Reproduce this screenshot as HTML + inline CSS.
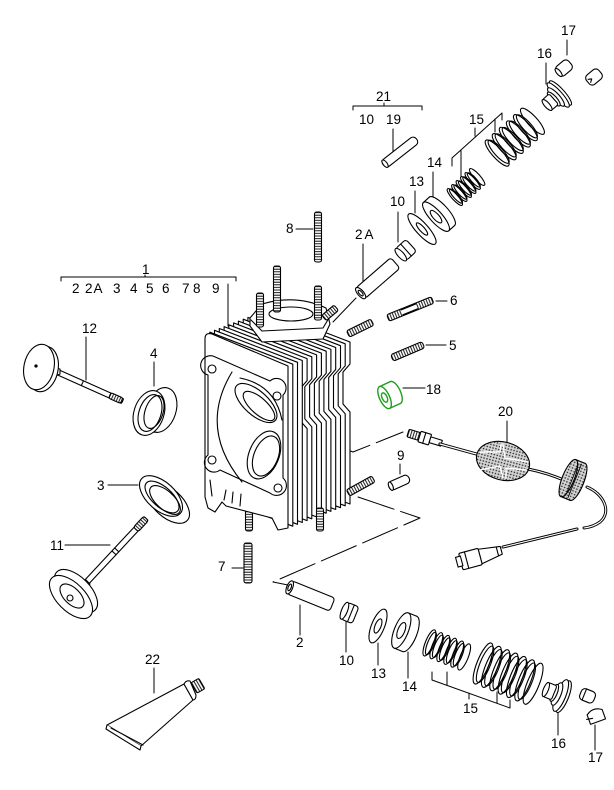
<!DOCTYPE html>
<html><head><meta charset="utf-8"><style>
html,body{margin:0;padding:0;background:#fff;}
svg{display:block;}
text{font-family:"Liberation Sans",sans-serif;font-size:13.5px;fill:#000;stroke:none;}
</style></head><body>
<svg width="614" height="790" viewBox="0 0 614 790" xmlns="http://www.w3.org/2000/svg">
<defs>
<pattern id="th" width="2.6" height="10" patternUnits="userSpaceOnUse"><rect width="2.6" height="10" fill="#fff"/><line x1="0.6" y1="0" x2="0.6" y2="10" stroke="#000" stroke-width="0.9"/></pattern>
<pattern id="dots" width="3" height="3" patternUnits="userSpaceOnUse"><rect width="3" height="3" fill="#d4d4d4"/><circle cx="1" cy="1" r="0.8" fill="#222"/></pattern>
<polygon id="fin" points="205,334 288,366 288,388 281,396 281,428 288,436 288,528 205,497"/>
<polygon id="fin0" points="205,334 288,366 288,528 205,497"/>
</defs>

<!-- ============ LABELS ============ -->
<text x="561" y="35">17</text>
<text x="537" y="58">16</text>
<text x="376" y="101">21</text>
<text x="359" y="124">10</text>
<text x="386" y="124">19</text>
<text x="469" y="124">15</text>
<text x="427" y="167">14</text>
<text x="409" y="186">13</text>
<text x="390" y="206">10</text>
<text x="286" y="233">8</text>
<text x="355" y="239" letter-spacing="2">2A</text>
<text x="142" y="274">1</text>
<text x="72" y="293">2</text>
<text x="85" y="293" letter-spacing="1">2A</text>
<text x="113" y="293">3</text>
<text x="130" y="293">4</text>
<text x="146" y="293">5</text>
<text x="162" y="293">6</text>
<text x="182" y="293">7</text>
<text x="193" y="293">8</text>
<text x="212" y="293">9</text>
<text x="82" y="333">12</text>
<text x="150" y="358">4</text>
<text x="450" y="305">6</text>
<text x="449" y="350">5</text>
<text x="426" y="394">18</text>
<text x="498" y="416">20</text>
<text x="97" y="490">3</text>
<text x="397" y="460">9</text>
<text x="50" y="550">11</text>
<text x="218" y="571">7</text>
<text x="145" y="664">22</text>
<text x="296" y="647">2</text>
<text x="339" y="665">10</text>
<text x="371" y="678">13</text>
<text x="402" y="691">14</text>
<text x="463" y="713">15</text>
<text x="551" y="748">16</text>
<text x="588" y="762">17</text>

<g fill="none" stroke="#000" stroke-width="1" stroke-linecap="round" stroke-linejoin="round">
<!-- ============ LEADERS ============ -->
<path d="M567,40V55 M546,63V84"/>
<path d="M353,110V106H422V110 M384,103V106"/>
<path d="M393,129V158"/>
<path d="M452,166V158L502,113V120 M461,150V176 M495,119V132 M475,128V136"/>
<path d="M433,172V198 M415,191V213 M398,212V242"/>
<path d="M296,229H313"/>
<path d="M363,244V285"/>
<path d="M61,281V277H236V281 M145,275V277"/>
<path d="M228,284V326"/>
<path d="M86,337V380"/>
<path d="M154,362V386"/>
<path d="M436,301H447 M426,345H446 M403,388H425"/>
<path d="M507,421V442"/>
<path d="M400,464V474"/>
<path d="M108,485H138"/>
<path d="M65,545H110"/>
<path d="M232,568H243"/>
<path d="M154,668V693"/>
<path d="M300,605V635 M346,622V652 M378,643V665 M408,652V678"/>
<path d="M432,672V680L510,708V700 M447,672V685 M497,692V703 M469,693V699"/>
<path d="M558,708V735 M595,725V750"/>
<!-- axis lines -->
<path d="M333,322L356,298"/>
<path d="M340,447L353,452L403,432" stroke-dasharray="32 7"/>
<path d="M358,497L420,518L273,582L288,585" stroke-dasharray="38 7"/>
</g>

<g fill="#fff" stroke="#000" stroke-width="1.1" stroke-linejoin="round" stroke-linecap="round">

<!-- ============ CYLINDER HEAD ============ -->
<use href="#fin" transform="translate(62,-24)"/>
<use href="#fin" transform="translate(57.2,-22.2)"/>
<use href="#fin" transform="translate(52.5,-20.3)"/>
<use href="#fin" transform="translate(47.7,-18.5)"/>
<use href="#fin" transform="translate(42.9,-16.6)"/>
<use href="#fin" transform="translate(38.2,-14.8)"/>
<use href="#fin" transform="translate(33.4,-12.9)"/>
<use href="#fin" transform="translate(28.6,-11.1)"/>
<use href="#fin" transform="translate(23.8,-9.2)"/>
<use href="#fin" transform="translate(19.1,-7.4)"/>
<use href="#fin0" transform="translate(14.3,-5.5)"/>
<use href="#fin0" transform="translate(9.5,-3.7)"/>
<use href="#fin0" transform="translate(4.8,-1.8)"/>

<!-- boss -->
<path d="M250,326L262,342L323,339L330,324L326,308Q296,294 262,304L250,318Z"/>
<path d="M251,320L262,331L323,328L329,318" fill="none"/>
<ellipse cx="291" cy="314" rx="22" ry="7"/>
<circle cx="318" cy="305" r="3"/>

<!-- head top studs -->
<g transform="translate(277,266) rotate(90)"><rect x="0" y="-3.5" width="46" height="7" rx="2" fill="url(#th)"/></g>
<g transform="translate(260,293) rotate(90)"><rect x="0" y="-3.5" width="34" height="7" rx="2" fill="url(#th)"/></g>
<g transform="translate(318,286) rotate(90)"><rect x="0" y="-3.5" width="34" height="7" rx="2" fill="url(#th)"/></g>
<g transform="translate(324,318) rotate(-40)"><rect x="0" y="-3.5" width="16" height="7" rx="2" fill="url(#th)"/></g>
<!-- head right studs -->
<g transform="translate(348,334) rotate(-26)"><rect x="0" y="-3.5" width="27" height="7" rx="2" fill="url(#th)"/></g>
<g transform="translate(348,493) rotate(-29)"><rect x="0" y="-3.5" width="29" height="7" rx="2" fill="url(#th)"/></g>
<!-- bottom studs -->
<g transform="translate(249,506) rotate(90)"><rect x="0" y="-3.5" width="25" height="7" rx="2" fill="url(#th)"/></g>
<g transform="translate(320,508) rotate(90)"><rect x="0" y="-3.5" width="23" height="7" rx="2" fill="url(#th)"/></g>

<!-- front face -->
<path d="M205,339Q205,332 212,334L288,366L288,528L278,530L272,518L226,506L222,502L215,512L208,508L205,497Z"/>
<path d="M213,356L270,381A9,9 0 0 1 283,395L283,478A9,9 0 0 1 270,493L220,470A9,9 0 0 1 208,455L208,375A9,9 0 0 1 213,356Z" fill="none"/>
<circle cx="212" cy="369" r="4"/>
<circle cx="277" cy="396" r="4"/>
<circle cx="212" cy="460" r="4"/>
<circle cx="278" cy="488" r="4"/>
<path d="M232,372Q198,428 242,482" fill="none"/>
<path d="M240,378Q275,385 282,420" fill="none"/>
<ellipse cx="256" cy="403" rx="26" ry="12" transform="rotate(42 256 403)"/>
<ellipse cx="259" cy="406" rx="20" ry="8" transform="rotate(42 259 406)" fill="none"/>
<ellipse cx="264" cy="455" rx="15" ry="25" transform="rotate(22 264 455)"/>
<ellipse cx="266" cy="456" rx="12" ry="21" transform="rotate(22 266 456)" fill="none"/>
<path d="M224,500L226,490 M232,503L233,492 M240,506L241,494 M210,480L212,496" fill="none"/>

<!-- ============ UPPER VALVETRAIN ============ -->
<!-- pin 19 -->
<g transform="translate(400,152) rotate(-38)">
<rect x="-21" y="-4.5" width="42" height="9" rx="4"/>
<ellipse cx="-19" cy="0" rx="2" ry="4.5"/>
</g>
<!-- stud 8 -->
<g transform="translate(318,212) rotate(90)"><rect x="0" y="-3.5" width="50" height="7" rx="2" fill="url(#th)"/></g>
<!-- 2A guide -->
<g transform="translate(378,278) rotate(-41)">
<rect x="-23" y="-7" width="46" height="14" rx="3"/>
<ellipse cx="-23" cy="0" rx="3" ry="7"/>
<ellipse cx="-23" cy="0" rx="1.5" ry="3.5"/>
</g>
<!-- 10 top -->
<g transform="translate(406,250) rotate(-42)">
<rect x="-7" y="-8" width="14" height="16" rx="3"/>
<ellipse cx="-7" cy="0" rx="3" ry="8"/>
<path d="M0,-8V8" fill="none"/>
</g>
<!-- 13 top washer -->
<g transform="translate(422,229) rotate(-42)">
<ellipse cx="0" cy="0" rx="6" ry="20"/>
<ellipse cx="0" cy="0" rx="2.5" ry="8"/>
</g>
<!-- 14 top -->
<g transform="translate(439,214) rotate(-42)">
<ellipse cx="4" cy="0" rx="6" ry="19"/>
<rect x="-4" y="-19" width="8" height="38" stroke="none"/>
<path d="M-4,-19H4 M-4,19H4" fill="none"/>
<ellipse cx="-4" cy="0" rx="6" ry="19"/>
<ellipse cx="-4" cy="0" rx="3" ry="8"/>
</g>
<!-- small spring top -->
<g transform="translate(466,187) rotate(-42)" fill="none" stroke-width="1.1">
<ellipse cx="-15" cy="0" rx="3" ry="11"/><ellipse cx="-13.5" cy="0" rx="2.6" ry="9.3"/>
<ellipse cx="-9" cy="0" rx="3" ry="11"/><ellipse cx="-7.5" cy="0" rx="2.6" ry="9.3"/>
<ellipse cx="-3" cy="0" rx="3" ry="11"/><ellipse cx="-1.5" cy="0" rx="2.6" ry="9.3"/>
<ellipse cx="3" cy="0" rx="3" ry="11"/><ellipse cx="4.5" cy="0" rx="2.6" ry="9.3"/>
<ellipse cx="9" cy="0" rx="3" ry="11"/><ellipse cx="10.5" cy="0" rx="2.6" ry="9.3"/>
<ellipse cx="15" cy="0" rx="3" ry="11"/>
</g>
<!-- big spring top -->
<g transform="translate(515,137) rotate(-42)" fill="none" stroke-width="1.1">
<ellipse cx="-24" cy="0" rx="5" ry="17"/><ellipse cx="-22" cy="0" rx="4.4" ry="15"/>
<ellipse cx="-14.5" cy="0" rx="5" ry="17"/><ellipse cx="-12.5" cy="0" rx="4.4" ry="15"/>
<ellipse cx="-5" cy="0" rx="5" ry="17"/><ellipse cx="-3" cy="0" rx="4.4" ry="15"/>
<ellipse cx="4.5" cy="0" rx="5" ry="17"/><ellipse cx="6.5" cy="0" rx="4.4" ry="15"/>
<ellipse cx="14" cy="0" rx="5" ry="17"/><ellipse cx="16" cy="0" rx="4.4" ry="15"/>
<ellipse cx="23.5" cy="0" rx="5" ry="17"/>
</g>
<!-- 16 top -->
<g transform="translate(556,97) rotate(-42)">
<ellipse cx="6" cy="0" rx="4" ry="16"/>
<ellipse cx="3" cy="0" rx="4" ry="16"/>
<ellipse cx="0" cy="0" rx="3.5" ry="12"/>
<ellipse cx="-3" cy="0" rx="3" ry="9"/>
<rect x="-12" y="-7" width="9" height="14" rx="2"/>
<ellipse cx="-12" cy="0" rx="2.5" ry="7"/>
</g>
<!-- 17 top keepers -->
<g transform="translate(564,68) rotate(-40)">
<rect x="-8" y="-6" width="16" height="12" rx="4"/>
<ellipse cx="-7" cy="0" rx="2" ry="5"/>
</g>
<g transform="translate(594,77) rotate(-40)">
<rect x="-8" y="-6" width="16" height="12" rx="4"/>
<path d="M-6,-2L-3,0L-6,2" fill="none"/>
</g>

<!-- studs 6, 5 -->
<g transform="translate(388,318) rotate(-22)">
<rect x="0" y="-3.5" width="48" height="7" rx="2" fill="url(#th)"/>
<rect x="15" y="-2.6" width="16" height="5.2" stroke="none"/>
<path d="M15,-2.6H31 M15,2.6H31" fill="none"/>
</g>
<g transform="translate(392,358) rotate(-23)"><rect x="0" y="-3.5" width="34" height="7" rx="2.5" fill="url(#th)"/></g>

<!-- 18 green nut -->
<g transform="translate(390,395) rotate(-25)" stroke="#1f9e1f" stroke-width="1.4">
<ellipse cx="6" cy="0" rx="5" ry="12"/>
<rect x="-6" y="-12" width="12" height="24" stroke="none"/>
<path d="M-6,-12H6 M-6,12H6" fill="none"/>
<ellipse cx="-6" cy="0" rx="5" ry="12"/>
<ellipse cx="-6" cy="0" rx="2.5" ry="5"/>
</g>

<!-- pin 9 -->
<g transform="translate(389,487) rotate(-24)">
<rect x="0" y="-4.5" width="22" height="9" rx="4"/>
<ellipse cx="2" cy="0" rx="2" ry="4.5"/>
</g>

<!-- ============ SENSOR 20 ============ -->
<g transform="translate(408,433) rotate(17)">
<rect x="0" y="-4" width="12" height="8" rx="1.5" fill="url(#th)"/>
<rect x="12" y="-5.5" width="11" height="11" rx="1"/>
<path d="M17,-5.5V5.5" fill="none"/>
<rect x="23" y="-3" width="12" height="6"/>
</g>
<path d="M440,444L480,455" stroke-width="3.2" fill="none"/>
<path d="M440,444L480,455" stroke="#fff" stroke-width="1.2" fill="none"/>
<path d="M528,469Q548,473 566,481" stroke-width="3" fill="none"/>
<path d="M528,469Q548,473 566,481" stroke="#fff" stroke-width="1.1" fill="none"/>
<ellipse cx="503" cy="461" rx="27" ry="19" transform="rotate(15 503 461)" fill="url(#dots)"/>
<path d="M480,452L500,452L501,444 M503,444L505,458L528,462 M480,470L500,466L503,478 M506,478L506,468L526,470" fill="none" stroke="#fff" stroke-width="1.4"/>
<g transform="translate(573,480) rotate(22)">
<ellipse cx="5" cy="0" rx="6" ry="20" fill="url(#dots)"/>
<rect x="-5" y="-20" width="10" height="40" fill="url(#dots)" stroke="none"/>
<path d="M-5,-20H5 M-5,20H5" fill="none"/>
<ellipse cx="-5" cy="0" rx="6" ry="20" fill="url(#dots)"/>
<path d="M-1,-17V17 M2,-18V18" fill="none" stroke-width="0.8"/>
</g>
<path d="M587,487C604,494 612,512 600,522Q593,527 584,528" stroke-width="3" fill="none"/>
<path d="M587,487C604,494 612,512 600,522Q593,527 584,528" stroke="#fff" stroke-width="1.1" fill="none"/>
<path d="M577,529L503,547" stroke-width="3" fill="none"/>
<path d="M577,529L503,547" stroke="#fff" stroke-width="1.1" fill="none"/>
<g transform="translate(480,556) rotate(-15)">
<path d="M0,-7L22,-4L22,4L0,8Z"/>
<path d="M18,-4.5V4.5" fill="none"/>
<rect x="-20" y="-8" width="20" height="17" rx="1.5"/>
<rect x="-24" y="-5" width="5" height="10"/>
<path d="M-14,-8V9" fill="none"/>
</g>

<!-- ============ LEFT PARTS ============ -->
<!-- valve 12 -->
<g transform="translate(55,371) rotate(24)">
<rect x="0" y="-2.6" width="74" height="5.2" rx="1"/>
<rect x="60" y="-3" width="13" height="6" rx="2" fill="url(#th)"/>
<path d="M30,-2.6V2.6" fill="none"/>
</g>
<path d="M47,359Q52,368 60,369L60,374Q50,378 45,384Z"/>
<ellipse cx="43" cy="369" rx="15" ry="23" transform="rotate(12 43 369)"/>
<ellipse cx="39" cy="367" rx="15" ry="23" transform="rotate(12 39 367)"/>
<circle cx="36" cy="366" r="1.1" fill="#000"/>

<!-- ring 4 -->
<ellipse cx="161" cy="410" rx="15" ry="23" transform="rotate(18 161 410)"/>
<path d="M141,398L151,391 M146,433L156,432" fill="none"/>
<ellipse cx="149" cy="413" rx="15" ry="23" transform="rotate(18 149 413)"/>
<ellipse cx="150" cy="413" rx="11" ry="19" transform="rotate(18 150 413)"/>
<ellipse cx="154" cy="412" rx="9" ry="17" transform="rotate(18 154 412)" fill="none"/>

<!-- ring 3 -->
<ellipse cx="168" cy="503" rx="26" ry="14" transform="rotate(42 168 503)"/>
<ellipse cx="161" cy="496" rx="26" ry="14" transform="rotate(42 161 496)"/>
<ellipse cx="162" cy="497" rx="21" ry="10" transform="rotate(42 162 497)"/>
<ellipse cx="165" cy="500" rx="19" ry="9" transform="rotate(42 165 500)" fill="none"/>

<!-- valve 11 -->
<g transform="translate(84,585) rotate(-47)">
<rect x="0" y="-2.8" width="91" height="5.6" rx="1"/>
<rect x="76" y="-3.3" width="15" height="6.6" rx="2.5" fill="url(#th)"/>
<path d="M44,-2.8V2.8 M48,-2.8V2.8" fill="none"/>
</g>
<path d="M72,582Q80,585 86,580L90,584Q84,590 84,598Z"/>
<ellipse cx="76" cy="591" rx="27" ry="14" transform="rotate(45 76 591)"/>
<ellipse cx="71" cy="597" rx="27" ry="14" transform="rotate(45 71 597)"/>
<ellipse cx="72" cy="596" rx="15" ry="8" transform="rotate(45 72 596)" fill="none"/>
<circle cx="70" cy="598" r="3" fill="none"/>

<!-- stud 7 -->
<g transform="translate(248,543) rotate(90)"><rect x="0" y="-4" width="40" height="8" rx="2" fill="url(#th)"/></g>

<!-- tube 22 -->
<path d="M107,725L184,684L193,700L141,746Z"/>
<path d="M107,725L106,729L140,750L141,746" />
<path d="M111,728L143,745" fill="none"/>
<path d="M184,684Q186,680 190,681L196,695Q196,700 193,700Z"/>
<g transform="translate(194,688) rotate(-30)">
<rect x="0" y="-6" width="9" height="12" rx="1.5" fill="url(#th)"/>
</g>

<!-- ============ LOWER VALVETRAIN ============ -->
<!-- guide 2 -->
<g transform="translate(311,596) rotate(22)">
<rect x="-23" y="-7" width="46" height="14" rx="3"/>
<ellipse cx="-23" cy="0" rx="3" ry="7"/>
<ellipse cx="-23" cy="0" rx="1.5" ry="3.5"/>
</g>
<!-- 10 -->
<g transform="translate(350,613) rotate(22)">
<rect x="-6" y="-9" width="12" height="18" rx="3"/>
<ellipse cx="-6" cy="0" rx="3" ry="9"/>
<path d="M1,-9V9" fill="none"/>
</g>
<!-- 13 washer -->
<g transform="translate(378,626) rotate(22)">
<ellipse cx="0" cy="0" rx="6.5" ry="18"/>
<ellipse cx="0" cy="0" rx="3" ry="7.5"/>
</g>
<!-- 14 -->
<g transform="translate(405,632) rotate(22)">
<ellipse cx="5" cy="0" rx="7" ry="19"/>
<rect x="-4" y="-19" width="9" height="38" stroke="none"/>
<path d="M-4,-19H5 M-4,19H5" fill="none"/>
<ellipse cx="-4" cy="0" rx="7" ry="19"/>
<ellipse cx="-4" cy="0" rx="3.5" ry="8.5"/>
</g>
<!-- small spring bottom -->
<g transform="translate(447,650) rotate(22)" fill="none" stroke-width="1.1">
<ellipse cx="-19" cy="0" rx="4" ry="14"/><ellipse cx="-17.3" cy="0" rx="3.4" ry="12"/>
<ellipse cx="-11.5" cy="0" rx="4" ry="14"/><ellipse cx="-9.8" cy="0" rx="3.4" ry="12"/>
<ellipse cx="-4" cy="0" rx="4" ry="14"/><ellipse cx="-2.3" cy="0" rx="3.4" ry="12"/>
<ellipse cx="3.5" cy="0" rx="4" ry="14"/><ellipse cx="5.2" cy="0" rx="3.4" ry="12"/>
<ellipse cx="11" cy="0" rx="4" ry="14"/><ellipse cx="12.7" cy="0" rx="3.4" ry="12"/>
<ellipse cx="18.5" cy="0" rx="4" ry="14"/>
</g>
<!-- big spring bottom -->
<g transform="translate(509,674) rotate(22)" fill="none" stroke-width="1.1">
<ellipse cx="-28" cy="0" rx="6" ry="22"/><ellipse cx="-25.8" cy="0" rx="5.2" ry="19.5"/>
<ellipse cx="-19" cy="0" rx="6" ry="22"/><ellipse cx="-16.8" cy="0" rx="5.2" ry="19.5"/>
<ellipse cx="-10" cy="0" rx="6" ry="22"/><ellipse cx="-7.8" cy="0" rx="5.2" ry="19.5"/>
<ellipse cx="-1" cy="0" rx="6" ry="22"/><ellipse cx="1.2" cy="0" rx="5.2" ry="19.5"/>
<ellipse cx="8" cy="0" rx="6" ry="22"/><ellipse cx="10.2" cy="0" rx="5.2" ry="19.5"/>
<ellipse cx="17" cy="0" rx="6" ry="22"/><ellipse cx="19.2" cy="0" rx="5.2" ry="19.5"/>
<ellipse cx="26" cy="0" rx="6" ry="22"/>
</g>
<!-- 16 bottom -->
<g transform="translate(557,694) rotate(22)">
<ellipse cx="7" cy="0" rx="5" ry="17"/>
<ellipse cx="4" cy="0" rx="5" ry="17"/>
<ellipse cx="0" cy="0" rx="4" ry="12"/>
<ellipse cx="-3" cy="0" rx="3" ry="9"/>
<rect x="-12" y="-7.5" width="9" height="15" rx="2"/>
<ellipse cx="-12" cy="0" rx="2.5" ry="7.5"/>
</g>
<!-- 17 bottom keepers -->
<g transform="translate(588,696) rotate(22)">
<rect x="-8" y="-6" width="15" height="12" rx="4"/>
<path d="M-4,-6V6" fill="none"/>
</g>
<g transform="translate(596,716) rotate(-20)">
<path d="M-8,-4Q0,-10 8,-4L8,6L-8,6Z"/>
<path d="M-10,0L-4,1" fill="none"/>
</g>
</g>
</svg>
</body></html>
